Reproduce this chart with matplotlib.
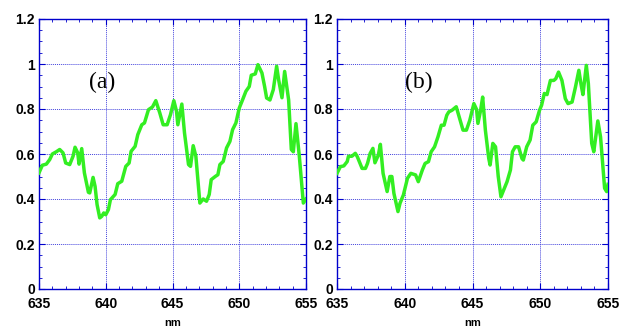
import matplotlib
matplotlib.use("Agg")
import matplotlib.pyplot as plt
from matplotlib.ticker import MultipleLocator

wl_a = [635, 635.25, 635.55, 635.8, 636, 636.3, 636.55, 636.8, 637, 637.3, 637.55, 637.7, 637.9, 638,
        638.2, 638.4, 638.7, 638.8, 639.05, 639.2, 639.35, 639.55, 639.7, 639.85, 640, 640.2, 640.35,
        640.7, 640.9, 641.2, 641.5, 641.75, 641.9, 642.2, 642.4, 642.7, 642.9, 643.2, 643.5, 643.75,
        644.05, 644.3, 644.6, 644.85, 645.1, 645.3, 645.4, 645.7, 645.9, 646.2, 646.35, 646.55, 646.75,
        647.05, 647.3, 647.55, 647.75, 647.9, 648.2, 648.4, 648.55, 648.8, 649.05, 649.3, 649.5, 649.75,
        650, 650.25, 650.5, 650.75, 650.9, 651.2, 651.4, 651.7, 651.9, 652.05, 652.3, 652.55, 652.8,
        652.95, 653.2, 653.4, 653.7, 653.9, 654.05, 654.25, 654.5, 654.8, 655]
val_a = [0.516, 0.55, 0.555, 0.575, 0.60, 0.61, 0.62, 0.605, 0.56, 0.553, 0.59, 0.63, 0.605, 0.555,
         0.624, 0.516, 0.43, 0.427, 0.496, 0.456, 0.375, 0.316, 0.323, 0.338, 0.33, 0.353, 0.397,
         0.42, 0.468, 0.479, 0.545, 0.56, 0.612, 0.634, 0.686, 0.73, 0.738, 0.797, 0.809, 0.837,
         0.782, 0.73, 0.73, 0.775, 0.837, 0.79, 0.73, 0.822, 0.693, 0.553, 0.545, 0.637, 0.59,
         0.382, 0.40, 0.39, 0.42, 0.486, 0.50, 0.508, 0.553, 0.567, 0.627, 0.656, 0.708, 0.738,
         0.804, 0.841, 0.879, 0.90, 0.95, 0.956, 0.997, 0.96, 0.90, 0.849, 0.84, 0.886, 0.99,
         0.93, 0.85, 0.967, 0.84, 0.62, 0.61, 0.735, 0.59, 0.382, 0.40]

wl_b = [635, 635.25, 635.5, 635.75, 635.85, 636.1, 636.35, 636.5, 636.85, 637.1, 637.25, 637.45, 637.65,
        637.8, 638.05, 638.2, 638.4, 638.7, 638.9, 639.05, 639.2, 639.5, 639.65, 639.9, 640.2, 640.45,
        640.8, 641.0, 641.3, 641.5, 641.75, 641.95, 642.2, 642.45, 642.7, 642.9, 643.1, 643.25, 643.5,
        643.8, 644.05, 644.3, 644.55, 644.8, 645.1, 645.3, 645.4, 645.6, 645.75, 645.95, 646.2, 646.3,
        646.5, 646.7, 646.9, 647.1, 647.3, 647.55, 647.8, 647.95, 648.15, 648.4, 648.65, 648.75, 649.0,
        649.25, 649.45, 649.7, 649.95, 650.1, 650.3, 650.5, 650.75, 651.0, 651.15, 651.35, 651.6,
        651.85, 652.05, 652.35, 652.6, 652.85, 653.0, 653.15, 653.4, 653.55, 653.8, 653.95, 654.25,
        654.45, 654.75, 654.9, 655]
val_b = [0.514, 0.544, 0.547, 0.566, 0.59, 0.59, 0.603, 0.588, 0.536, 0.536, 0.558, 0.603, 0.625,
         0.561, 0.595, 0.643, 0.514, 0.433, 0.50, 0.50, 0.425, 0.344, 0.381, 0.418, 0.492, 0.514,
         0.507, 0.477, 0.529, 0.558, 0.566, 0.61, 0.632, 0.676, 0.728, 0.728, 0.772, 0.787, 0.795,
         0.81, 0.758, 0.706, 0.706, 0.75, 0.824, 0.798, 0.736, 0.795, 0.853, 0.706, 0.58, 0.551,
         0.647, 0.632, 0.50, 0.41, 0.44, 0.477, 0.529, 0.61, 0.632, 0.632, 0.58, 0.573, 0.632,
         0.662, 0.728, 0.743, 0.795, 0.817, 0.869, 0.864, 0.927, 0.927, 0.935, 0.964, 0.927,
         0.846, 0.824, 0.831, 0.898, 0.972, 0.913, 0.864, 0.994, 0.913, 0.647, 0.61, 0.747,
         0.676, 0.448, 0.433, 0.465]

x_ticks = [635, 640, 645, 650, 655]
y_ticks = [0, 0.2, 0.4, 0.6, 0.8, 1, 1.2]
y_ticklabels = ["0", "0.2", "0.4", "0.6", "0.8", "1", "1.2"]
panel_labels = ["(a)", "(b)"]

fig = plt.figure(figsize=(6.19, 3.29), dpi=100)
blue = "#0000cc"
grid_blue = "#4444dd"
green = "#33ee22"
positions = [[39/619, 40/329, 267/619, 270/329], [337/619, 40/329, 271/619, 270/329]]
label_pos = [(639.7, 0.92), (641.05, 0.92)]
datasets = [(wl_a, val_a), (wl_b, val_b)]

for i, (pos, (wl, val)) in enumerate(zip(positions, datasets)):
    ax = fig.add_axes(pos)
    ax.plot(wl, val, color=green, lw=2.5, solid_joinstyle="round", zorder=3)
    ax.set_xlim(635, 655)
    ax.set_ylim(0, 1.2)
    ax.set_xticks(x_ticks)
    ax.set_xticklabels([str(t) for t in x_ticks], fontsize=10, fontweight="bold",
                       family="Liberation Sans")
    ax.set_yticks(y_ticks)
    ax.set_yticklabels(y_ticklabels, fontsize=10, fontweight="bold", family="Liberation Sans")
    ax.xaxis.set_minor_locator(MultipleLocator(1))
    ax.yaxis.set_minor_locator(MultipleLocator(0.05))
    ax.tick_params(which="both", direction="in", top=True, right=True, color=blue)
    ax.tick_params(which="major", length=4)
    ax.tick_params(which="minor", length=2.5)
    ax.tick_params(axis="x", which="major", pad=5.5)
    ax.tick_params(axis="y", which="major", pad=3)
    ax.grid(True, which="major", color=grid_blue, linestyle=(0, (1, 1)), linewidth=0.7)
    for s in ax.spines.values():
        s.set_color(blue)
        s.set_linewidth(1.0)
    ax.set_xlabel("nm", fontsize=8, fontweight="bold", family="Liberation Sans", labelpad=5)
    ax.text(label_pos[i][0], label_pos[i][1], panel_labels[i], fontsize=17,
            family="Liberation Serif", ha="center", va="center")

fig.savefig("out.png", dpi=100)
